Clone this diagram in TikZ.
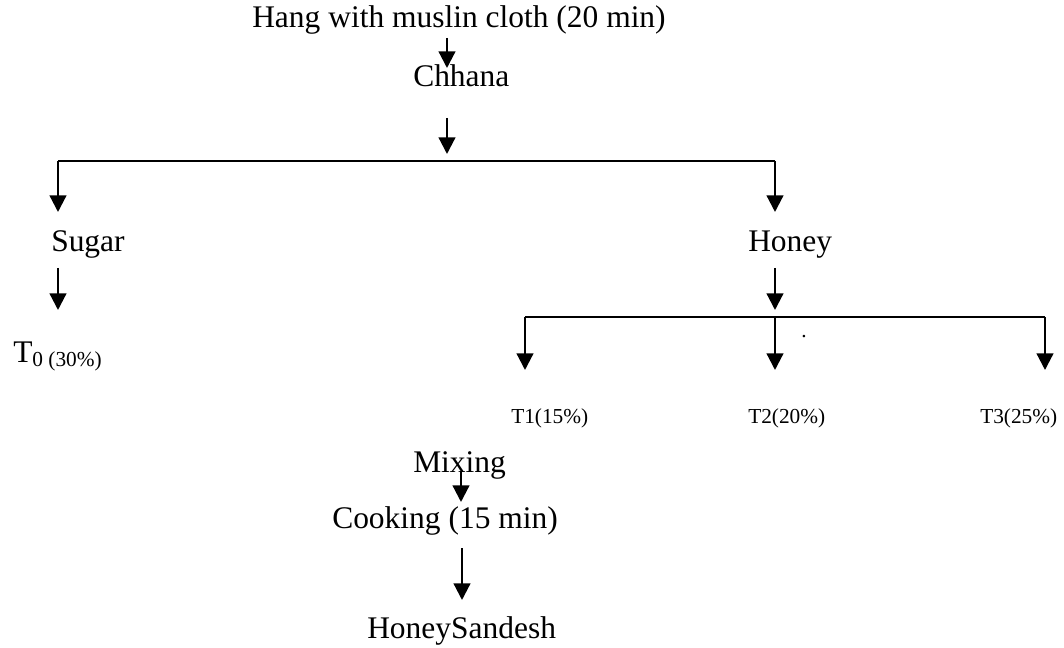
\documentclass[tikz,border=0pt]{standalone}
\usepackage{fontspec}
\setmainfont{Liberation Serif}
\usetikzlibrary{arrows.meta}
\tikzset{
  bigtext/.style={inner sep=0pt, anchor=base west, font=\fontsize{23.6}{28}\selectfont},
  smalltext/.style={inner sep=0pt, anchor=base west, font=\fontsize{16}{19}\selectfont},
  flow/.style={line width=1.7pt, line join=miter, -{Triangle[width=12.5pt,length=12.5pt]}},
  bar/.style={line width=1.7pt},
}
\begin{document}
\begin{tikzpicture}[x=0.75pt,y=-0.75pt]
    \useasboundingbox (0,0) rectangle (1064,648);
    % texts
    \node[bigtext] (hang) at (252,28) {Hang with muslin cloth (20 min)};
    \node[bigtext] (chhana) at (413,87) {Chhana};
    \node[bigtext] (sugar) at (51,252) {Sugar};
    \node[bigtext] (honey) at (748,252) {Honey};
    \node[bigtext] (tzero) at (13,363) {T\raisebox{-3pt}{\fontsize{16}{19}\selectfont 0 (30\%)}};
    \node[smalltext] (tone) at (511,424) {T1(15\%)};
    \node[smalltext] (ttwo) at (748,424) {T2(20\%)};
    \node[smalltext] (tthree) at (980,424) {T3(25\%)};
    \node[smalltext] (dot) at (801,338) {.};
    \node[bigtext] (mixing) at (413,473) {Mixing};
    \node[bigtext] (cooking) at (332,528) {Cooking (15 min)};
    \node[bigtext] (sandesh) at (367,638) {HoneySandesh};
    % arrow ends
    \coordinate (a1) at (447,38);  \coordinate (b1) at (447,68);
    \coordinate (a2) at (447,118); \coordinate (b2) at (447,154);
    \coordinate (jl) at (58,161);  \coordinate (jr) at (775,161);
    \coordinate (sugtip) at (58,212); \coordinate (hontip) at (775,212);
    \coordinate (a3) at (58,268);  \coordinate (b3) at (58,310);
    \coordinate (a4) at (775,268); \coordinate (b4) at (775,310);
    \coordinate (kl) at (525,317); \coordinate (km) at (775,317); \coordinate (kr) at (1045,317);
    \coordinate (t1tip) at (525,370); \coordinate (t2tip) at (775,370); \coordinate (t3tip) at (1045,370);
    \coordinate (a5) at (461,472); \coordinate (b5) at (461,502);
    \coordinate (a6) at (462,548); \coordinate (b6) at (462,600);
    % arrows
    \draw[flow] (a1) -- (b1);
    \draw[flow] (a2) -- (b2);
    \draw[bar] (jl) -- (jr);
    \draw[flow] (jl) -- (sugtip);
    \draw[flow] (jr) -- (hontip);
    \draw[flow] (a3) -- (b3);
    \draw[flow] (a4) -- (b4);
    \draw[bar] (kl) -- (kr);
    \draw[flow] (kl) -- (t1tip);
    \draw[flow] (km) -- (t2tip);
    \draw[flow] (kr) -- (t3tip);
    \draw[flow] (a5) -- (b5);
    \draw[flow] (a6) -- (b6);
\end{tikzpicture}
\end{document}
